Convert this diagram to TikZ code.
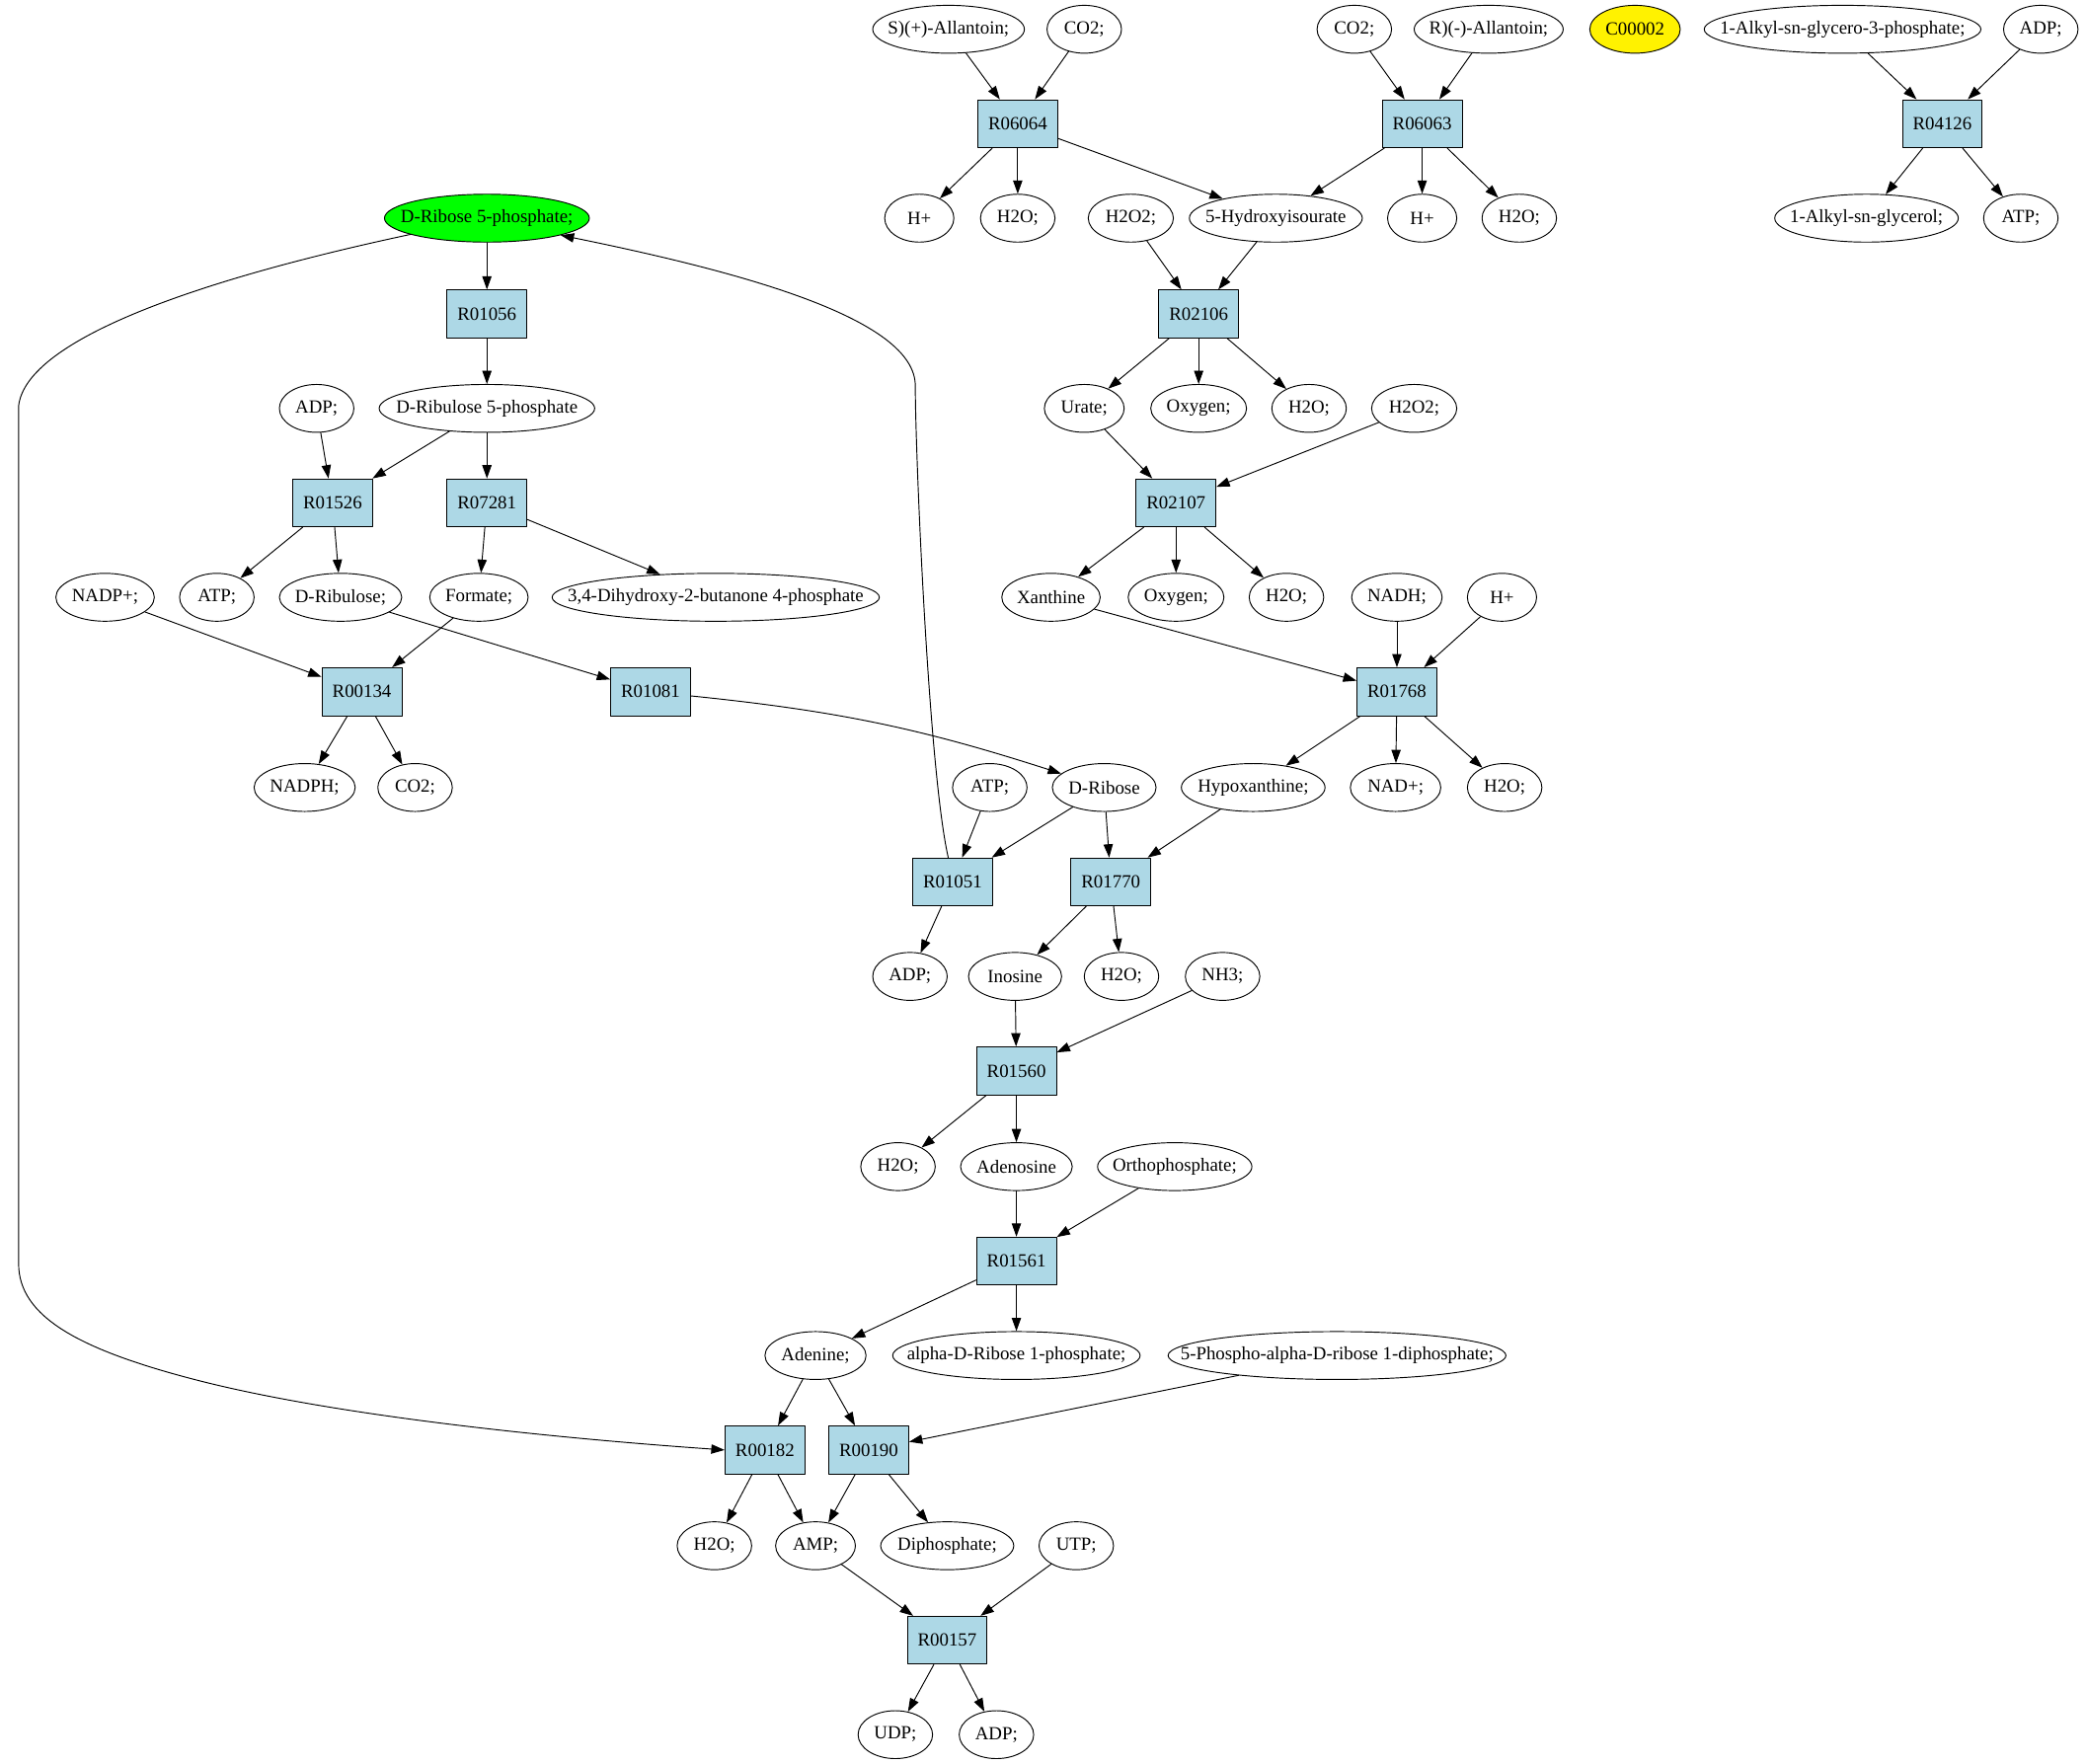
\documentclass[tikz,border=0pt]{standalone}
\usepackage{fontspec}
\setmainfont{Liberation Serif}
\usetikzlibrary{shapes.geometric,arrows.meta}
\definecolor{rxnblue}{HTML}{ADD8E6}
\newcommand{\zb}[1]{\makebox[0pt]{#1}}
\begin{document}
\begin{tikzpicture}[x=1pt,y=-1pt,line cap=round,line join=round,line width=0.7pt,
	>={Triangle[length=10pt,width=7pt]},
	cpd/.style={ellipse,draw,inner sep=0pt,minimum height=36pt,minimum width=#1,font=\fontsize{14}{16}\selectfont},
	rxn/.style={rectangle,draw,fill=rxnblue,inner sep=0pt,minimum width=60pt,minimum height=36pt,font=\fontsize{14}{16}\selectfont}]
	\useasboundingbox (0,0) rectangle (1568,1326);
	\node[cpd=114pt] (sall) at (713,22) {\zb{S)(+)-Allantoin;}};
	\node[cpd=56pt] (co2a) at (815,22) {\zb{CO2;}};
	\node[cpd=56pt] (co2b) at (1018,22) {\zb{CO2;}};
	\node[cpd=112pt] (rall) at (1119,22) {\zb{R)(-)-Allantoin;}};
	\node[cpd=68pt,fill=yellow] (c00002) at (1229,22) {\zb{C00002}};
	\node[cpd=208pt] (alkgp) at (1385,22) {\zb{1-Alkyl-sn-glycero-3-phosphate;}};
	\node[cpd=56pt] (adpa) at (1534,22) {\zb{ADP;}};
	\node[rxn] (R06064) at (765,93) {R06064};
	\node[rxn] (R06063) at (1069,93) {R06063};
	\node[rxn] (R04126) at (1460,93) {R04126};
	\node[cpd=154pt,fill=green] (dr5p) at (366,164) {\zb{D-Ribose 5-phosphate;}};
	\node[cpd=52pt] (hpa) at (691,164) {\zb{H+}};
	\node[cpd=56pt] (h2oa) at (765,164) {\zb{H2O;}};
	\node[cpd=64pt] (h2o2a) at (850,164) {\zb{H2O2;}};
	\node[cpd=130pt] (hiu) at (959,164) {\zb{5-Hydroxyisourate}};
	\node[cpd=52pt] (hpb) at (1069,164) {\zb{H+}};
	\node[cpd=56pt] (h2ob) at (1142,164) {\zb{H2O;}};
	\node[cpd=138pt] (alkg) at (1403,164) {\zb{1-Alkyl-sn-glycerol;}};
	\node[cpd=56pt] (atpa) at (1519,164) {\zb{ATP;}};
	\node[rxn] (R01056) at (366,236) {R01056};
	\node[rxn] (R02106) at (901,236) {R02106};
	\node[cpd=56pt] (adpb) at (238,307) {\zb{ADP;}};
	\node[cpd=162pt] (drl5p) at (366,307) {\zb{D-Ribulose 5-phosphate}};
	\node[cpd=60pt] (urate) at (815,307) {\zb{Urate;}};
	\node[cpd=72pt] (oxya) at (901,307) {\zb{Oxygen;}};
	\node[cpd=56pt] (h2oc) at (984,307) {\zb{H2O;}};
	\node[cpd=64pt] (h2o2b) at (1063,307) {\zb{H2O2;}};
	\node[rxn] (R01526) at (250,378) {R01526};
	\node[rxn] (R07281) at (366,378) {R07281};
	\node[rxn] (R02107) at (884,378) {R02107};
	\node[cpd=74pt] (nadp) at (79,449) {\zb{NADP+;}};
	\node[cpd=56pt] (atpb) at (163,449) {\zb{ATP;}};
	\node[cpd=92pt] (drl) at (256,449) {\zb{D-Ribulose;}};
	\node[cpd=74pt] (form) at (360,449) {\zb{Formate;}};
	\node[cpd=246pt] (dhbp) at (538,449) {\zb{3,4-Dihydroxy-2-butanone 4-phosphate}};
	\node[cpd=74pt] (xan) at (790,449) {\zb{Xanthine}};
	\node[cpd=72pt] (oxyb) at (884,449) {\zb{Oxygen;}};
	\node[cpd=56pt] (h2od) at (967,449) {\zb{H2O;}};
	\node[cpd=68pt] (nadh) at (1050,449) {\zb{NADH;}};
	\node[cpd=52pt] (hpc) at (1129,449) {\zb{H+}};
	\node[rxn] (R00134) at (272,520) {R00134};
	\node[rxn] (R01081) at (489,520) {R01081};
	\node[rxn] (R01768) at (1050,520) {R01768};
	\node[cpd=76pt] (nadph) at (229,592) {\zb{NADPH;}};
	\node[cpd=56pt] (co2c) at (312,592) {\zb{CO2;}};
	\node[cpd=56pt] (atpc) at (744,592) {\zb{ATP;}};
	\node[cpd=78pt] (drib) at (830,592) {\zb{D-Ribose}};
	\node[cpd=108pt] (hyp) at (942,592) {\zb{Hypoxanthine;}};
	\node[cpd=68pt] (nad) at (1049,592) {\zb{NAD+;}};
	\node[cpd=56pt] (h2oe) at (1131,592) {\zb{H2O;}};
	\node[rxn] (R01051) at (716,663) {R01051};
	\node[rxn] (R01770) at (835,663) {R01770};
	\node[cpd=56pt] (adpc) at (684,734) {\zb{ADP;}};
	\node[cpd=70pt] (ino) at (763,734) {\zb{Inosine}};
	\node[cpd=56pt] (h2of) at (843,734) {\zb{H2O;}};
	\node[cpd=56pt] (nh3) at (919,734) {\zb{NH3;}};
	\node[rxn] (R01560) at (764,805) {R01560};
	\node[cpd=56pt] (h2og) at (675,877) {\zb{H2O;}};
	\node[cpd=84pt] (ado) at (764,877) {\zb{Adenosine}};
	\node[cpd=116pt] (pi) at (883,877) {\zb{Orthophosphate;}};
	\node[rxn] (R01561) at (764,948) {R01561};
	\node[cpd=76pt] (ade) at (613,1019) {\zb{Adenine;}};
	\node[cpd=186pt] (r1p) at (764,1019) {\zb{alpha-D-Ribose 1-phosphate;}};
	\node[cpd=254pt] (prpp) at (1005,1019) {\zb{5-Phospho-alpha-D-ribose 1-diphosphate;}};
	\node[rxn] (R00182) at (575,1090) {R00182};
	\node[rxn] (R00190) at (653,1090) {R00190};
	\node[cpd=56pt] (h2oh) at (537,1162) {\zb{H2O;}};
	\node[cpd=60pt] (amp) at (613,1162) {\zb{AMP;}};
	\node[cpd=100pt] (ppi) at (712,1162) {\zb{Diphosphate;}};
	\node[cpd=56pt] (utp) at (809,1162) {\zb{UTP;}};
	\node[rxn] (R00157) at (712,1233) {R00157};
	\node[cpd=56pt] (udp) at (673,1304) {\zb{UDP;}};
	\node[cpd=56pt] (adpd) at (749,1304) {\zb{ADP;}};
	\draw[->] (sall) -- (R06064);
	\draw[->] (co2a) -- (R06064);
	\draw[->] (R06064) -- (hpa);
	\draw[->] (R06064) -- (h2oa);
	\draw[->] (R06064) -- (hiu);
	\draw[->] (co2b) -- (R06063);
	\draw[->] (rall) -- (R06063);
	\draw[->] (R06063) -- (hiu);
	\draw[->] (R06063) -- (hpb);
	\draw[->] (R06063) -- (h2ob);
	\draw[->] (alkgp) -- (R04126);
	\draw[->] (adpa) -- (R04126);
	\draw[->] (R04126) -- (alkg);
	\draw[->] (R04126) -- (atpa);
	\draw[->] (dr5p) -- (R01056);
	\draw[->] (R01056) -- (drl5p);
	\draw[->] (h2o2a) -- (R02106);
	\draw[->] (hiu) -- (R02106);
	\draw[->] (R02106) -- (urate);
	\draw[->] (R02106) -- (oxya);
	\draw[->] (R02106) -- (h2oc);
	\draw[->] (adpb) -- (R01526);
	\draw[->] (drl5p) -- (R01526);
	\draw[->] (drl5p) -- (R07281);
	\draw[->] (urate) -- (R02107);
	\draw[->] (h2o2b) -- (R02107);
	\draw[->] (R01526) -- (atpb);
	\draw[->] (R01526) -- (drl);
	\draw[->] (R07281) -- (form);
	\draw[->] (R07281) -- (dhbp);
	\draw[->] (R02107) -- (xan);
	\draw[->] (R02107) -- (oxyb);
	\draw[->] (R02107) -- (h2od);
	\draw[->] (nadp) -- (R00134);
	\draw[->] (form) -- (R00134);
	\draw[->] (drl) -- (R01081);
	\draw[->] (xan) -- (R01768);
	\draw[->] (nadh) -- (R01768);
	\draw[->] (hpc) -- (R01768);
	\draw[->] (R00134) -- (nadph);
	\draw[->] (R00134) -- (co2c);
	\draw[->] (R01081) to[bend left=6] (drib);
	\draw[->] (R01768) -- (hyp);
	\draw[->] (R01768) -- (nad);
	\draw[->] (R01768) -- (h2oe);
	\draw[->] (atpc) -- (R01051);
	\draw[->] (drib) -- (R01051);
	\draw[->] (drib) -- (R01770);
	\draw[->] (hyp) -- (R01770);
	\draw[->] (R01051) -- (adpc);
	\draw[->] (R01051.100) .. controls (698,580) and (688,340) .. (688,290) .. controls (688,240) and (560,205) .. (dr5p.347);
	\draw[->] (R01770) -- (ino);
	\draw[->] (R01770) -- (h2of);
	\draw[->] (ino) -- (R01560);
	\draw[->] (nh3) -- (R01560);
	\draw[->] (R01560) -- (h2og);
	\draw[->] (R01560) -- (ado);
	\draw[->] (ado) -- (R01561);
	\draw[->] (pi) -- (R01561);
	\draw[->] (R01561) -- (ade);
	\draw[->] (R01561) -- (r1p);
	\draw[->] (ade) -- (R00182);
	\draw[->] (ade) -- (R00190);
	\draw[->] (prpp) -- (R00190);
	\draw[->] (dr5p.192) .. controls (150,210) and (20,255) .. (14,305) -- (14,950) .. controls (14,990) and (60,1015) .. (150,1038) .. controls (260,1066) and (430,1082) .. (R00182.west);
	\draw[->] (R00182) -- (h2oh);
	\draw[->] (R00182) -- (amp);
	\draw[->] (R00190) -- (amp);
	\draw[->] (R00190) -- (ppi);
	\draw[->] (amp) -- (R00157);
	\draw[->] (utp) -- (R00157);
	\draw[->] (R00157) -- (udp);
	\draw[->] (R00157) -- (adpd);
\end{tikzpicture}
\end{document}
